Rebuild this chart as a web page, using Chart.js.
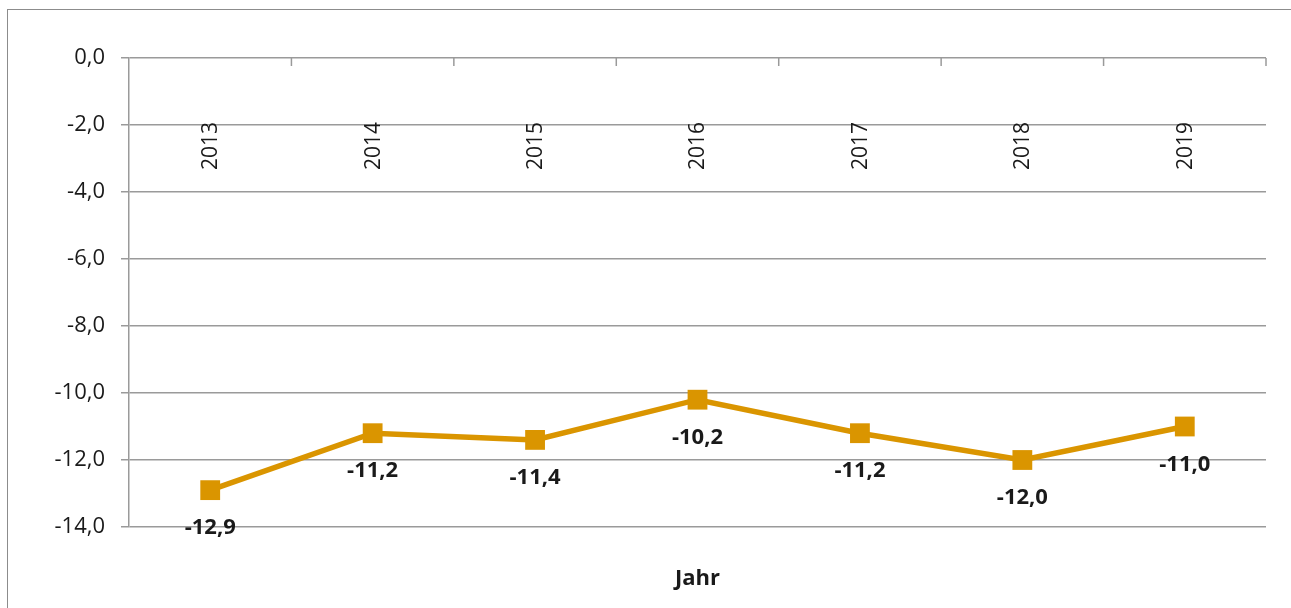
<!DOCTYPE html>
<html>
<head>
<meta charset="utf-8">
<script src="https://cdn.jsdelivr.net/npm/chart.js@4/dist/chart.umd.min.js"></script>
<style>
  html, body { margin: 0; padding: 0; background: #fff; overflow: hidden; }
  #wrap { position: relative; width: 1291px; height: 608px; }
  #frame { position: absolute; left: 7px; top: 9px; width: 1300px; height: 620px; border: 1.5px solid #8c8c8c; box-sizing: border-box; }
  #chart { position: absolute; left: 0; top: 0; }
</style>
</head>
<body>
<div id="wrap">
  <div id="frame"></div>
  <canvas id="chart" width="1291" height="608"></canvas>
</div>
<script>
const years = ["2013", "2014", "2015", "2016", "2017", "2018", "2019"];
const values = [-12.9, -11.2, -11.4, -10.2, -11.2, -12.0, -11.0];
const yMin = -14;
const yMax = 0;
const yStep = 2;
const axisTitle = "Jahr";

const lineColor = "#da9500";
const gridColor = "#9a9a9a";
const textColor = "#1a1a1a";
const fontFamily = "'Open Sans', sans-serif";

function formatNumber(v) {
  return v.toFixed(1).replace(".", ",");
}

// year labels + small tick marks hanging below the 0-line, and value labels
const decorations = {
  id: "decorations",
  afterDatasetsDraw(chart) {
    const ctx = chart.ctx;
    const xScale = chart.scales.x;
    const yScale = chart.scales.y;
    const area = chart.chartArea;
    const topY = yScale.getPixelForValue(yMax);

    ctx.save();
    ctx.strokeStyle = gridColor;
    ctx.lineWidth = 1.5;
    for (let i = 0; i < years.length; i++) {
      let bx;
      if (i < years.length - 1) {
        bx = (xScale.getPixelForValue(i) + xScale.getPixelForValue(i + 1)) / 2;
      } else {
        bx = area.right;
      }
      ctx.beginPath();
      ctx.moveTo(bx, topY);
      ctx.lineTo(bx, topY + 8);
      ctx.stroke();
    }

    ctx.fillStyle = textColor;
    ctx.font = "21px " + fontFamily;
    ctx.textAlign = "right";
    ctx.textBaseline = "middle";
    years.forEach((label, i) => {
      const x = xScale.getPixelForValue(i);
      ctx.save();
      ctx.translate(x + 1, yScale.getPixelForValue(-2) - 3);
      ctx.rotate(-Math.PI / 2);
      ctx.fillText(label, 0, 0);
      ctx.restore();
    });

    ctx.font = "bold 22px " + fontFamily;
    ctx.textAlign = "center";
    ctx.textBaseline = "middle";
    const meta = chart.getDatasetMeta(0);
    meta.data.forEach((pt, i) => {
      ctx.fillText(formatNumber(values[i]), pt.x, pt.y + 38);
    });
    ctx.restore();
  }
};

new Chart(document.getElementById("chart"), {
  type: "line",
  data: {
    labels: years,
    datasets: [{
      data: values,
      borderColor: lineColor,
      backgroundColor: lineColor,
      borderWidth: 5.5,
      pointStyle: "rect",
      pointRadius: 14,
      pointHoverRadius: 14,
      pointBorderWidth: 0,
      tension: 0
    }]
  },
  options: {
    responsive: false,
    animation: false,
    layout: { padding: { left: 0, right: 25, top: 58, bottom: 0 } },
    plugins: {
      legend: { display: false },
      tooltip: { enabled: false }
    },
    scales: {
      x: {
        offset: true,
        grid: { display: false },
        border: { display: false },
        ticks: { display: false },
        title: {
          display: true,
          text: axisTitle,
          color: textColor,
          font: { family: fontFamily, size: 22, weight: "bold" },
          padding: { top: 0, bottom: 16 }
        },
        afterFit(scale) { scale.height = 81; }
      },
      y: {
        min: yMin,
        max: yMax,
        ticks: {
          stepSize: yStep,
          color: textColor,
          padding: 16,
          font: { family: fontFamily, size: 22 },
          callback: (v) => formatNumber(v)
        },
        grid: { color: gridColor, lineWidth: 1.5, tickLength: 8 },
        border: { color: gridColor, width: 1.5 },
        afterFit(scale) { scale.width = 129; }
      }
    }
  },
  plugins: [decorations]
});
</script>
</body>
</html>
